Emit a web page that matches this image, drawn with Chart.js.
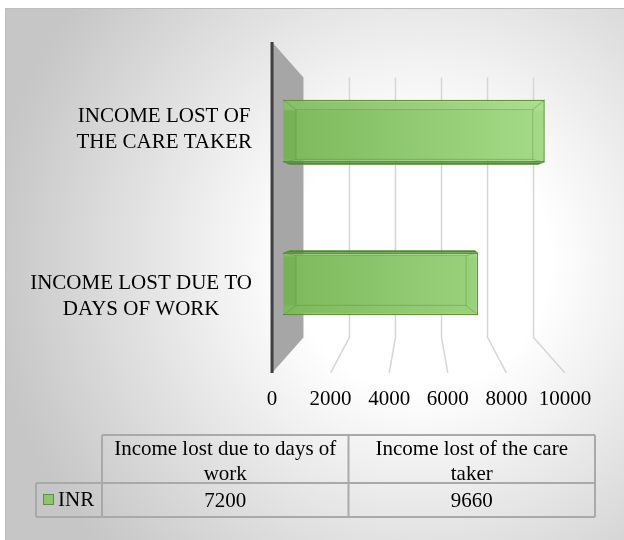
<!DOCTYPE html>
<html>
<head>
<meta charset="utf-8">
<script src="https://cdn.jsdelivr.net/npm/chart.js@4.4.1/dist/chart.umd.min.js"></script>
<style>
  body { margin: 0; background: #fff; }
  #wrap { width: 624px; height: 540px; }
</style>
</head>
<body>
<div id="wrap"><canvas id="canv" width="624" height="540"></canvas></div>
<script>
// data
var categories = ['Income lost due to days of work', 'Income lost of the care taker'];
var axisLabels = [['INCOME LOST DUE TO', 'DAYS OF WORK'], ['INCOME LOST OF', 'THE CARE TAKER']];
var seriesName = 'INR';
var inrValues = [7200, 9660];
var xTicks = [0, 2000, 4000, 6000, 8000, 10000];

var FONT = '21px "Liberation Serif", "Times New Roman", serif';
// fake 3d depth factors (relative to the plane of the bars)
var FRONT = 1.081, BACK = 0.849, BAR_BACK = 0.948, LABEL_F = 1.096;

function proj(area, x, y, f) {
  var cx = (area.left + area.right) / 2, cy = (area.top + area.bottom) / 2;
  return [cx + (x - cx) * f, cy + (y - cy) * f];
}

function wrapText(ctx, text, maxW) {
  var words = text.split(' '), lines = [], cur = '';
  for (var i = 0; i < words.length; i++) {
    var t = cur ? cur + ' ' + words[i] : words[i];
    if (cur && ctx.measureText(t).width > maxW) { lines.push(cur); cur = words[i]; }
    else cur = t;
  }
  if (cur) lines.push(cur);
  return lines;
}

var decor = {
  id: 'decor',
  beforeDraw: function(chart) {
    var ctx = chart.ctx, w = chart.width, h = chart.height;
    ctx.save();
    ctx.fillStyle = '#fff';
    ctx.fillRect(0, 0, w, h);
    var g = ctx.createRadialGradient(420, 260, 0, 420, 260, 430);
    g.addColorStop(0, '#ffffff');
    g.addColorStop(0.3, '#ffffff');
    g.addColorStop(1, '#c6c6c6');
    ctx.fillStyle = g;
    ctx.fillRect(5, 8, w - 5, h - 8);
    ctx.strokeStyle = '#bdbdbd';
    ctx.lineWidth = 1;
    ctx.beginPath();
    ctx.moveTo(5.5, h); ctx.lineTo(5.5, 8.5); ctx.lineTo(w, 8.5);
    ctx.stroke();
    ctx.restore();
  },
  beforeDatasetsDraw: function(chart) {
    var ctx = chart.ctx, a = chart.chartArea, xs = chart.scales.x;
    ctx.save();
    // gridlines on the back wall and floor
    ctx.strokeStyle = '#d6d6d6';
    ctx.lineWidth = 1.5;
    xTicks.forEach(function(v) {
      if (v === 0) return;
      var px = xs.getPixelForValue(v);
      var p1 = proj(a, px, a.top, BACK), p2 = proj(a, px, a.bottom, BACK), p3 = proj(a, px, a.bottom, FRONT);
      ctx.beginPath();
      ctx.moveTo(p1[0], p1[1]); ctx.lineTo(p2[0], p2[1]); ctx.lineTo(p3[0], p3[1]);
      ctx.stroke();
    });
    // side wall
    var x0 = xs.getPixelForValue(0);
    var ft = proj(a, x0, a.top, FRONT), bt = proj(a, x0, a.top, BACK);
    var bb = proj(a, x0, a.bottom, BACK), fb = proj(a, x0, a.bottom, FRONT);
    ctx.fillStyle = '#a6a6a6';
    ctx.beginPath();
    ctx.moveTo(ft[0], ft[1]); ctx.lineTo(bt[0], bt[1]); ctx.lineTo(bb[0], bb[1]); ctx.lineTo(fb[0], fb[1]);
    ctx.closePath();
    ctx.fill();
    ctx.strokeStyle = '#3f3f3f';
    ctx.lineWidth = 3;
    ctx.beginPath();
    ctx.moveTo(ft[0], ft[1]); ctx.lineTo(fb[0], fb[1]);
    ctx.stroke();
    // depth faces of the bars
    var cy = (a.top + a.bottom) / 2;
    chart.getDatasetMeta(0).data.forEach(function(bar) {
      var l = bar.base, r = bar.x, t = bar.y - bar.height / 2, b = bar.y + bar.height / 2;
      var edge = bar.y < cy ? b : t;
      var p1 = proj(a, l, edge, BAR_BACK), p2 = proj(a, r, edge, BAR_BACK);
      ctx.fillStyle = '#4f8a33';
      ctx.beginPath();
      ctx.moveTo(l, edge); ctx.lineTo(r, edge); ctx.lineTo(p2[0], p2[1]); ctx.lineTo(p1[0], p1[1]);
      ctx.closePath();
      ctx.fill();
    });
    ctx.restore();
  },
  afterDatasetsDraw: function(chart) {
    var ctx = chart.ctx, a = chart.chartArea, xs = chart.scales.x, ys = chart.scales.y;
    var cy = (a.top + a.bottom) / 2;
    ctx.save();
    // soft bevel on the bar faces
    chart.getDatasetMeta(0).data.forEach(function(bar) {
      var l = bar.base, r = bar.x, t = bar.y - bar.height / 2, b = bar.y + bar.height / 2;
      var up = bar.y < cy;
      var it = t + (up ? 10 : 3), ib = b - (up ? 3 : 10), il = l + 13, ir = r - 12;
      ctx.fillStyle = 'rgba(255,255,255,0.08)';
      ctx.fillRect(l + 1, t + 1, r - l - 2, it - t);
      ctx.fillStyle = 'rgba(40,90,20,0.08)';
      ctx.fillRect(l + 1, it, il - l - 1, ib - it);
      ctx.strokeStyle = 'rgba(80,140,50,0.4)';
      ctx.lineWidth = 1;
      ctx.beginPath();
      ctx.moveTo(l, t); ctx.lineTo(il, it); ctx.lineTo(ir, it); ctx.lineTo(r, t);
      ctx.moveTo(l, b); ctx.lineTo(il, ib); ctx.lineTo(ir, ib); ctx.lineTo(r, b);
      ctx.moveTo(il, it); ctx.lineTo(il, ib);
      ctx.moveTo(ir, it); ctx.lineTo(ir, ib);
      ctx.stroke();
    });

    ctx.font = FONT;
    ctx.fillStyle = '#000';
    // value ticks on the front edge of the floor
    ctx.textAlign = 'center';
    ctx.textBaseline = 'alphabetic';
    xTicks.forEach(function(v) {
      var p = proj(a, xs.getPixelForValue(v), a.bottom, FRONT);
      ctx.fillText(String(v), p[0], p[1] + 32);
    });
    // category labels, block right aligned, lines centred
    var rightEdge = proj(a, xs.getPixelForValue(0), a.top, FRONT)[0] - 20;
    axisLabels.forEach(function(lines, i) {
      var c = cy + (ys.getPixelForValue(i) - cy) * LABEL_F + 4;
      var bw = 0;
      lines.forEach(function(s) { bw = Math.max(bw, ctx.measureText(s).width); });
      lines.forEach(function(s, k) {
        ctx.fillText(s, rightEdge - bw / 2, c - (lines.length - 1) / 2 * 26.3 + k * 26.3 + 7);
      });
    });

    // data table
    var tL = 36, lR = 102, tR = 595, hT = 435, rT = 483, tB = 517;
    var colW = (tR - lR) / categories.length;
    ctx.strokeStyle = '#a9a9a9';
    ctx.lineWidth = 2;
    ctx.beginPath();
    ctx.moveTo(lR, hT); ctx.lineTo(tR, hT);
    ctx.moveTo(tL, rT); ctx.lineTo(tR, rT);
    ctx.moveTo(tL, tB); ctx.lineTo(tR, tB);
    ctx.moveTo(tL, rT); ctx.lineTo(tL, tB);
    for (var c = 0; c <= categories.length; c++) {
      ctx.moveTo(lR + c * colW, hT); ctx.lineTo(lR + c * colW, tB);
    }
    ctx.stroke();
    ctx.fillStyle = '#000';
    categories.forEach(function(cat, i) {
      var mx = lR + colW * (i + 0.5);
      var lines = wrapText(ctx, cat, colW - 12);
      lines.forEach(function(s, k) { ctx.fillText(s, mx, 455 + k * 24.5); });
      ctx.fillText(String(inrValues[i]), mx, 506.5);
    });
    ctx.fillStyle = '#8cc56b';
    ctx.fillRect(43.5, 494.5, 10, 10);
    ctx.strokeStyle = '#5a9438';
    ctx.lineWidth = 1;
    ctx.strokeRect(43.5, 494.5, 10, 10);
    ctx.fillStyle = '#000';
    ctx.textAlign = 'left';
    ctx.fillText(seriesName, 58, 506);
    ctx.restore();
  }
};

new Chart(document.getElementById('canv'), {
  type: 'bar',
  data: {
    labels: categories,
    datasets: [{
      label: seriesName,
      data: inrValues,
      backgroundColor: function(c) {
        var a = c.chart.chartArea;
        if (!a) return '#8cc56b';
        var g = c.chart.ctx.createLinearGradient(a.left, 0, a.right, 0);
        g.addColorStop(0, '#7db95c');
        g.addColorStop(1, '#a6dc89');
        return g;
      },
      borderColor: '#5a9438',
      borderWidth: 1.5,
      barPercentage: 0.41,
      categoryPercentage: 1
    }]
  },
  options: {
    indexAxis: 'y',
    responsive: false,
    animation: false,
    devicePixelRatio: 1,
    layout: { padding: { left: 283, right: 70, top: 54.5, bottom: 179.5 } },
    plugins: { legend: { display: false }, tooltip: { enabled: false } },
    scales: {
      x: { display: false, min: 0, max: 10000 },
      y: { display: false, reverse: true }
    }
  },
  plugins: [decor]
});
</script>
</body>
</html>
